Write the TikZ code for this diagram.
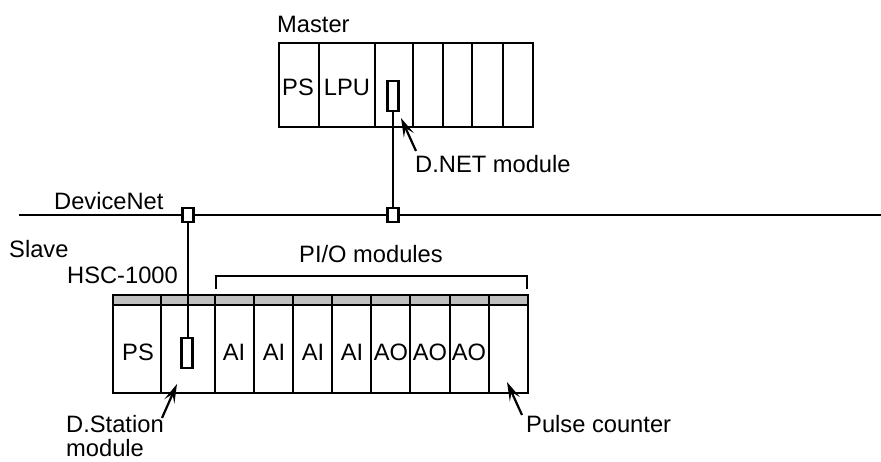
\documentclass[tikz,border=0pt]{standalone}
\usepackage{fontspec}
\setmainfont{Liberation Sans}
\usetikzlibrary{arrows.meta}
\tikzset{
  rackline/.style={line width=2.2pt},
  tapbox/.style={draw, line width=2.2pt, fill=white, minimum width=11pt, minimum height=14pt, inner sep=0pt},
  modbox/.style={draw, line width=2.2pt, fill=white, minimum width=11pt, minimum height=30pt, inner sep=0pt},
  lbl/.style={font=\fontsize{23.7}{26}\selectfont, inner sep=0pt, anchor=base west},
  slot/.style={font=\fontsize{23.7}{26}\selectfont, inner sep=0pt, anchor=base},
  pointer/.style={-{Stealth[length=19pt, width=11pt, inset=8pt]}, line width=2.2pt},
}
\begin{document}
\begin{tikzpicture}[x=1pt, y=-1pt]
  \useasboundingbox (0,0) rectangle (881,461);
  % bus
  \coordinate (busL) at (19,215);
  \coordinate (busR) at (881,215);
  \draw[rackline] (busL) -- (busR);
  \node[lbl] (busname) at (54,209) {DeviceNet};
  % master rack
  \draw[rackline] (279,43) rectangle (533,127);
  \foreach \x in {319,375,413,443,472,503}
    \draw[rackline] (\x,43) -- (\x,127);
  \node[lbl] (master) at (277,32) {Master};
  \node[slot] (mPS) at (298,95) {PS};
  \node[slot] (mLPU) at (347,95) {LPU};
  % slave rack
  \fill[gray!50] (113,295) rectangle (528,305);
  \draw[rackline] (113,295) rectangle (528,393);
  \draw[rackline] (113,305) -- (528,305);
  \foreach \x in {161,215,254,293,332,371,410,450,489}
    \draw[rackline] (\x,295) -- (\x,393);
  \node[slot] (sPS) at (138,360) {PS};
  \foreach \x/\n in {234/a,274/b,313/c,352/d}
    \node[slot] (sAI\n) at (\x,360) {AI};
  \foreach \x/\n in {391/a,430/b,469/c}
    \node[slot] (sAO\n) at (\x,360) {AO};
  \node[lbl] (slave) at (9,257) {Slave};
  \node[lbl] (hsc) at (67,283) {HSC-1000};
  % taps and drops
  \node[tapbox] (tapM) at (393,215) {};
  \node[tapbox] (tapS) at (188,215) {};
  \node[modbox] (dnet) at (393,96) {};
  \node[modbox] (dsta) at (187,353) {};
  \draw[rackline] (dnet) -- (tapM);
  \draw[rackline] (tapS.south) -- (dsta.north -| tapS);
  % bracket
  \draw[rackline] (216,289) -- (216,276) -- (527,276) -- (527,289);
  \node[lbl] (pio) at (299,262) {PI/O modules};
  % pointers
  \node[lbl] (dnetname) at (415,172) {D.NET module};
  \node[lbl] (dstaname) at (66,432) {D.Station};
  \node[lbl] (dstaname2) at (66,456) {module};
  \node[lbl] (pulse) at (526,432) {Pulse counter};
  \coordinate (dnettip) at (401,118);
  \coordinate (dstatip) at (177,384);
  \coordinate (pulsetip) at (507,382);
  \draw[pointer] (416,151) -- (dnettip);
  \draw[pointer] (162,418) -- (dstatip);
  \draw[pointer] (522,415) -- (pulsetip);
\end{tikzpicture}
\end{document}
